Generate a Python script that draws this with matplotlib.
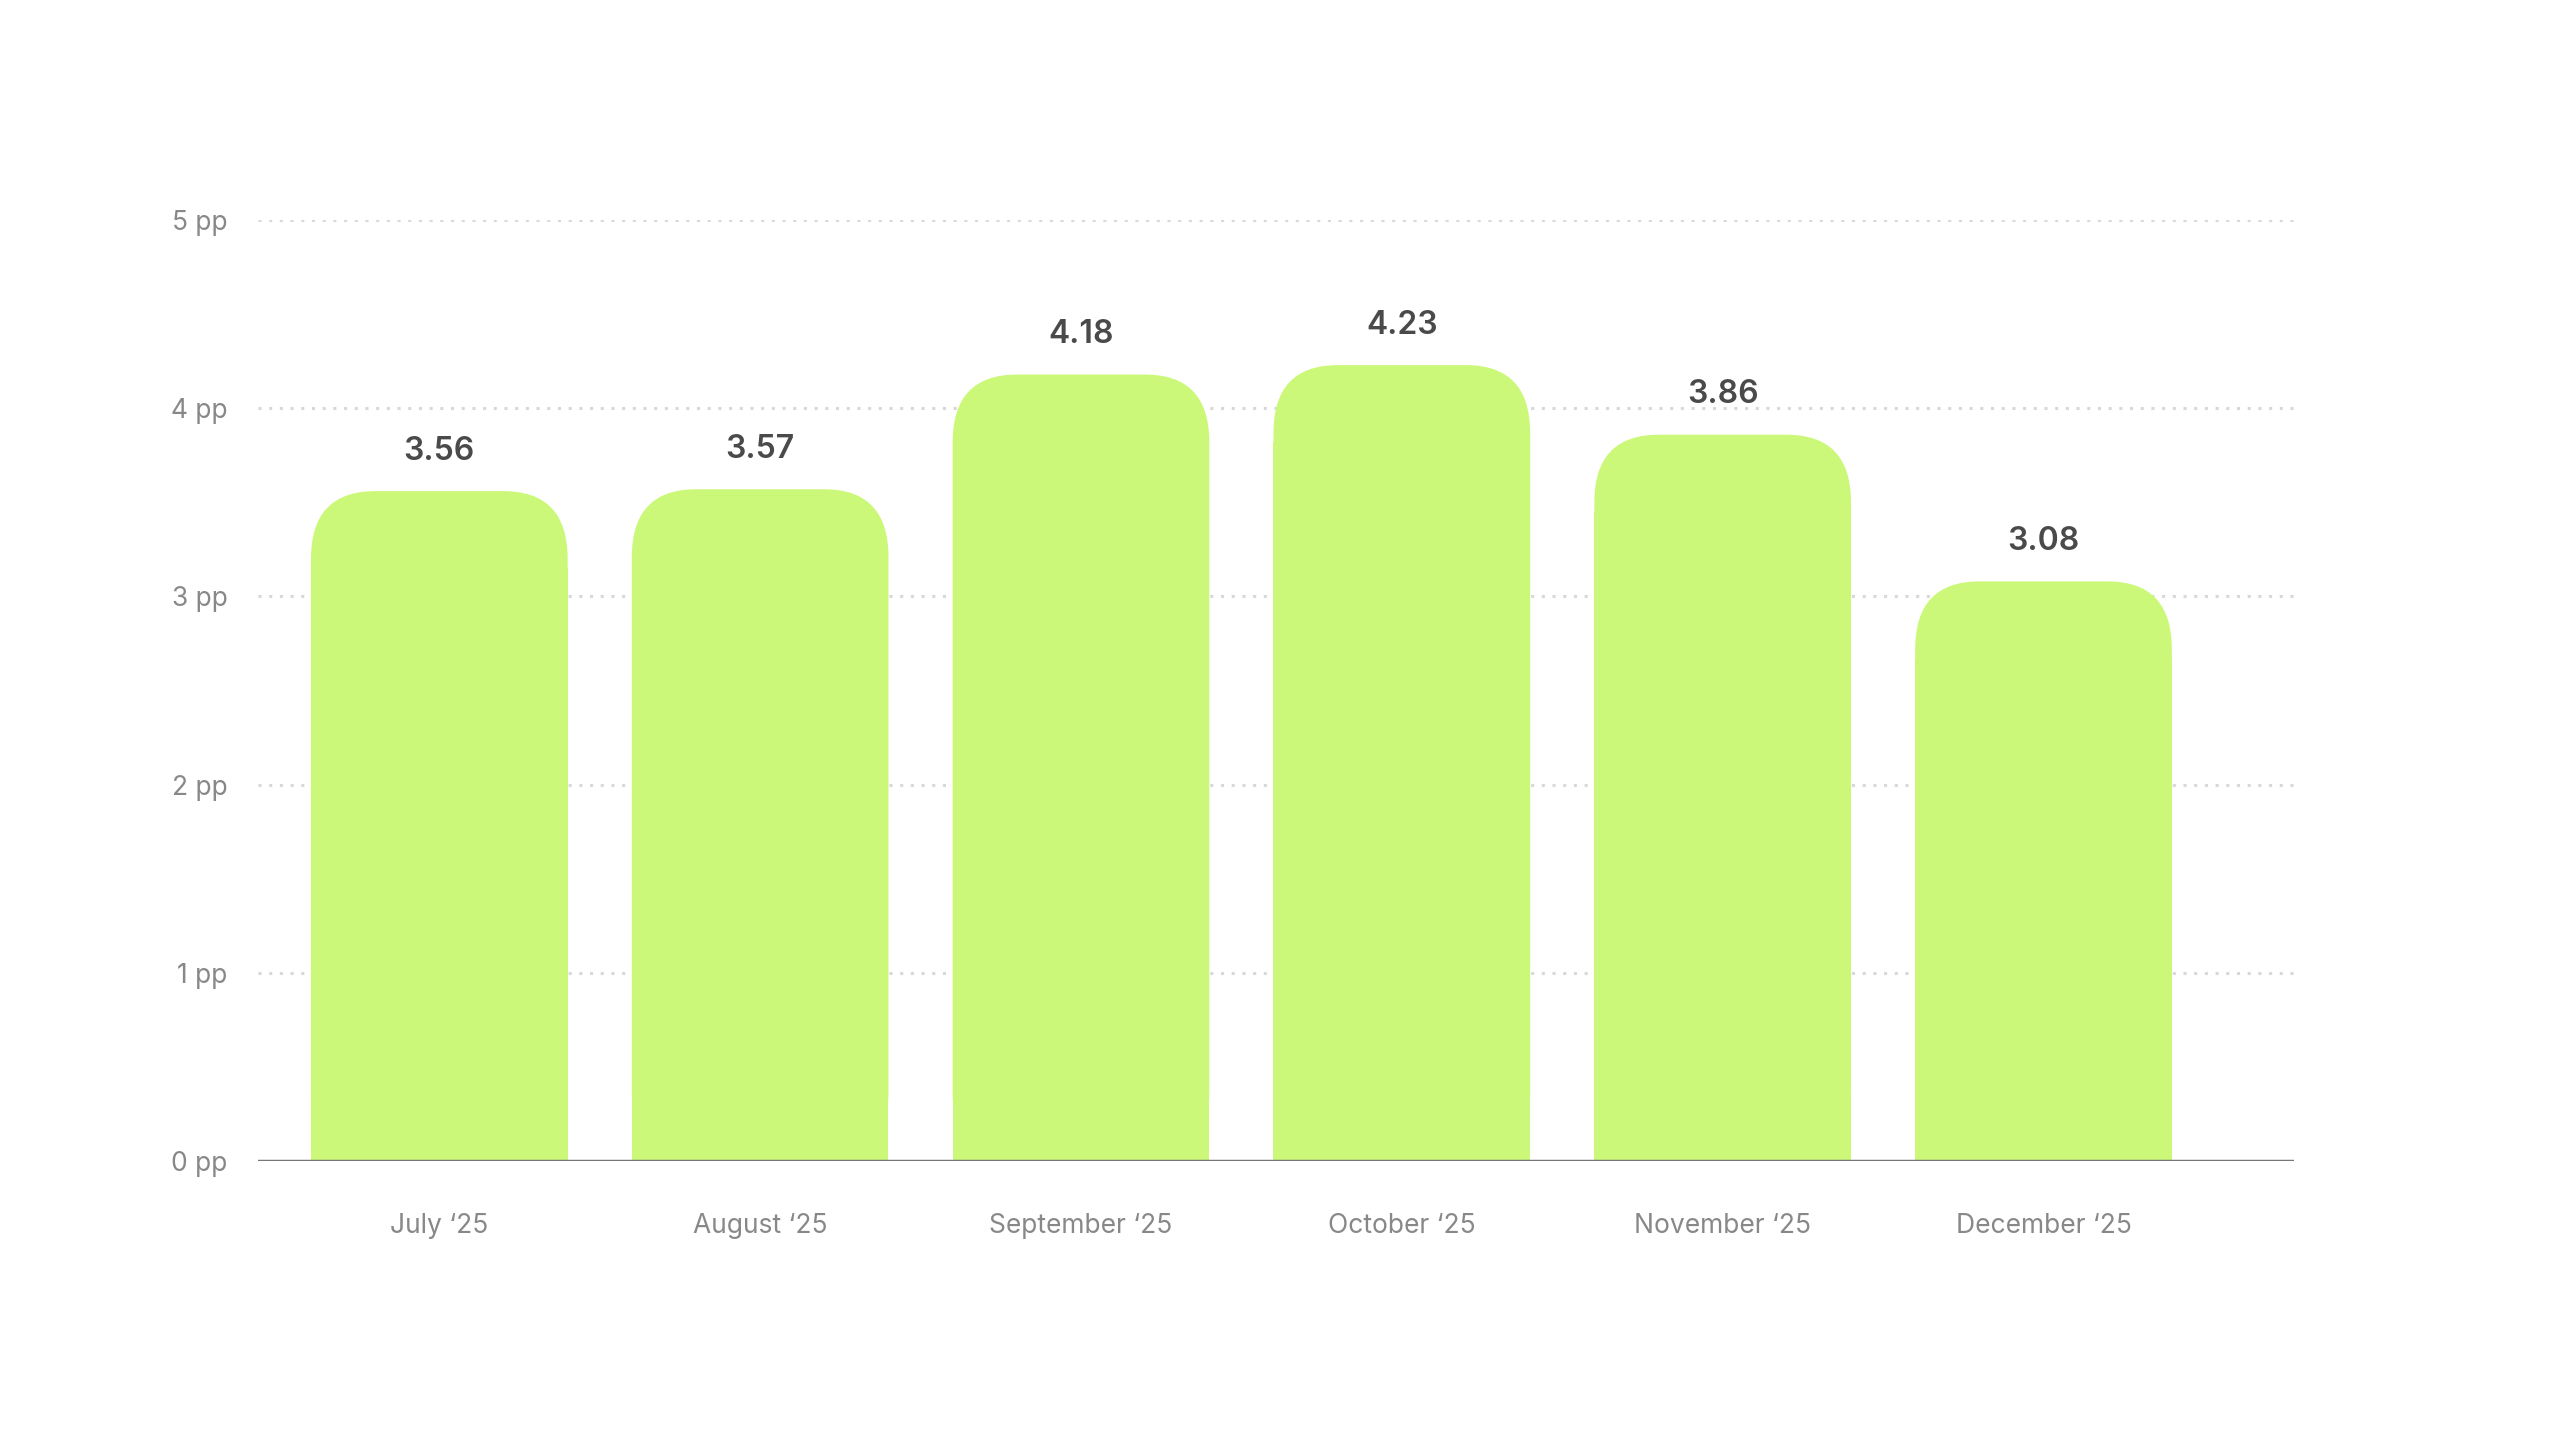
import matplotlib
matplotlib.use("Agg")
import matplotlib.pyplot as plt
from matplotlib.patches import FancyBboxPatch, Rectangle

months = ["July \u201825", "August \u201825", "September \u201825", "October \u201825", "November \u201825", "December \u201825"]
values = [3.56, 3.57, 4.18, 4.23, 3.86, 3.08]
yticks = [0, 1, 2, 3, 4, 5]

plt.rcParams['font.family'] = ['Inter', 'DejaVu Sans']
fig = plt.figure(figsize=(25.6, 14.4), dpi=100)
ax = fig.add_axes([0.1008, 0.194, 0.7952, 0.653])
ax.set_xlim(-0.565, 5.78)
ax.set_ylim(0, 5)

color = "#CCF87A"
w = 0.8
rx = 0.2
ry = 0.36
for i, v in enumerate(values):
    x0 = i - w / 2
    p = FancyBboxPatch((x0 + rx, ry), w - 2 * rx, v - 2 * ry,
                       boxstyle=f"round,pad={rx},rounding_size={rx}",
                       mutation_aspect=ry / rx, fc=color, ec="none", zorder=3)
    ax.add_patch(p)
    ax.add_patch(Rectangle((x0, 0), w, v - ry - 0.05, fc=color, ec="none", zorder=3))
    ax.text(i, v + 0.13, f"{v:.2f}", ha="center", va="bottom", fontsize=23,
            fontweight="semibold", color="#4a4a4a", zorder=4)

for t in yticks[1:]:
    ax.axhline(t, color="#d8d8d8", lw=2.2, ls=(0, (1, 2.5)), zorder=1)
ax.axhline(0, color="#777777", lw=2.5, zorder=5)

ax.set_yticks(yticks)
ax.set_yticklabels([f"{t} pp" for t in yticks])
ax.set_xticks(range(len(months)))
ax.set_xticklabels(months)
ax.tick_params(length=0, labelsize=19, colors="#888888")
ax.tick_params(axis="x", pad=38)
ax.tick_params(axis="y", pad=22)
for s in ax.spines.values():
    s.set_visible(False)

fig.savefig("out.png", dpi=100, facecolor="white")
